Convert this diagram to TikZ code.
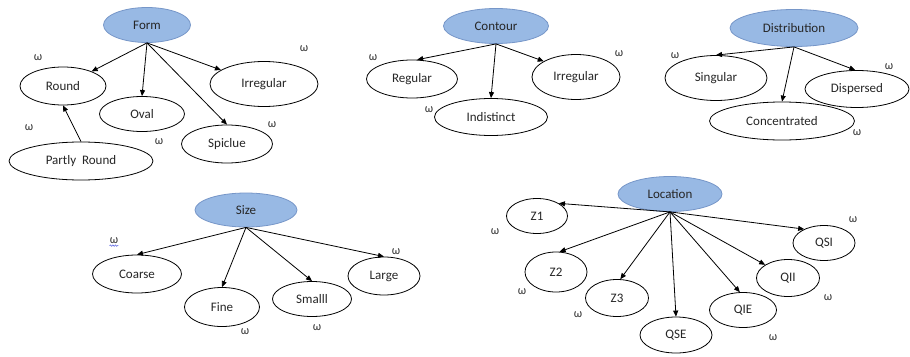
\documentclass[tikz,border=0pt]{standalone}
\usepackage{fontspec}
\setmainfont{Carlito}
\usetikzlibrary{arrows.meta,shapes.geometric,decorations.pathmorphing}
\definecolor{rootfill}{RGB}{152,185,228}
\definecolor{rootline}{RGB}{118,150,200}
\definecolor{wavyblue}{RGB}{70,80,220}
\begin{document}
\begin{tikzpicture}[x=1pt,y=-1pt,
  leaf/.style={draw=black, line width=0.8pt, ellipse, inner sep=0pt, font=\fontsize{13}{15}\selectfont, text=black!85},
  root/.style={leaf, fill=rootfill, draw=rootline},
  om/.style={inner sep=0pt, font=\fontsize{12}{14}\selectfont, text=black!80},
  arr/.style={line width=0.8pt, -{Triangle[length=6pt,width=5pt]}}]
\useasboundingbox (0,0) rectangle (910,356);
\fill[white] (0,0) rectangle (910,356);

% ---- Form ----
\node[root, minimum width=87pt, minimum height=35pt] (form) at (147,25) {Form};
\node[leaf, minimum width=86pt, minimum height=38pt] (round) at (63,86) {Round};
\node[leaf, minimum width=85pt, minimum height=35pt] (oval) at (142,114) {Oval};
\node[leaf, minimum width=108pt, minimum height=45pt] (irr1) at (264,84) {Irregular};
\node[leaf, minimum width=91pt, minimum height=38pt] (spic) at (227,144) {Spiclue};
\node[leaf, minimum width=144pt, minimum height=38pt] (partly) at (81,161) {Partly~~Round};
\node[om] (w1) at (38,58) {ω};
\node[om] (w2) at (304,49) {ω};
\node[om] (w3) at (29,128) {ω};
\node[om] (w4) at (159,142) {ω};
\node[om] (w5) at (272,125) {ω};
\draw[arr] (form.south) -- (round.27);
\draw[arr] (form.south) -- (oval.north);
\draw[arr] (form.south) -- (spic.north);
\draw[arr] (form.south) -- (irr1.162);
\draw[arr] (partly.north) -- (round.south);

% ---- Contour ----
\node[root, minimum width=105pt, minimum height=35pt] (contour) at (496,26) {Contour};
\node[leaf, minimum width=91pt, minimum height=38pt] (reg) at (412,79) {Regular};
\node[leaf, minimum width=113pt, minimum height=37pt] (indis) at (491,117) {Indistinct};
\node[leaf, minimum width=88pt, minimum height=45pt] (irr2) at (576,77) {Irregular};
\node[om] (w6) at (373,58) {ω};
\node[om] (w7) at (429,110) {ω};
\node[om] (w8) at (619,54) {ω};
\draw[arr] (contour.south) -- (reg.75);
\draw[arr] (contour.south) -- (indis.north);
\draw[arr] (contour.south) -- (irr2.154);

% ---- Distribution ----
\node[root, minimum width=128pt, minimum height=37pt] (dist) at (794,28) {Distribution};
\node[leaf, minimum width=102pt, minimum height=45pt] (sing) at (716,78) {Singular};
\node[leaf, minimum width=145pt, minimum height=38pt] (conc) at (782,121) {Concentrated};
\node[leaf, minimum width=104pt, minimum height=37pt] (disp) at (857,89) {Dispersed};
\node[om] (w9) at (675,56) {ω};
\node[om] (w10) at (889,67) {ω};
\node[om] (w11) at (857,133) {ω};
\draw[arr] (dist.south) -- (sing.north);
\draw[arr] (dist.south) -- (conc.north);
\draw[arr] (dist.south) -- (disp.95);

% ---- Size ----
\node[root, minimum width=102pt, minimum height=34pt] (size) at (246,210) {Size};
\node[leaf, minimum width=89pt, minimum height=38pt] (coarse) at (137,274) {Coarse};
\node[leaf, minimum width=75pt, minimum height=39pt] (fine) at (222,307) {Fine};
\node[leaf, minimum width=79pt, minimum height=35pt] (small) at (312,299) {Smalll};
\node[leaf, minimum width=72pt, minimum height=38pt] (large) at (384,276) {Large};
\node[om] (w12) at (114,241) {ω};
\draw[wavyblue, line width=0.5pt, decorate, decoration={snake, amplitude=0.7pt, segment length=2.5pt}] ([yshift=-1.5pt]w12.south west) -- ([yshift=-1.5pt]w12.south east);
\node[om] (w13) at (245,332) {ω};
\node[om] (w14) at (317,328) {ω};
\node[om] (w15) at (396,252) {ω};
\draw[arr] (size.south) -- (coarse.north);
\draw[arr] (size.south) -- (fine.north);
\draw[arr] (size.south) -- (small.north);
\draw[arr] (size.south) -- (large.north);

% ---- Location ----
\node[root, minimum width=104pt, minimum height=35pt] (loc) at (670,194) {Location};
\node[leaf, minimum width=61pt, minimum height=35pt] (z1) at (537,216) {Z1};
\node[leaf, minimum width=62pt, minimum height=40pt] (z2) at (556,272) {Z2};
\node[leaf, minimum width=63pt, minimum height=37pt] (z3) at (617,298) {Z3};
\node[leaf, minimum width=72pt, minimum height=36pt] (qse) at (676,335) {QSE};
\node[leaf, minimum width=67pt, minimum height=35pt] (qie) at (743,310) {QIE};
\node[leaf, minimum width=63pt, minimum height=37pt] (qii) at (788,278) {QII};
\node[leaf, minimum width=62pt, minimum height=35pt] (qsi) at (824,243) {QSI};
\node[om] (w16) at (495,232) {ω};
\node[om] (w17) at (522,292) {ω};
\node[om] (w18) at (578,315) {ω};
\node[om] (w19) at (773,338) {ω};
\node[om] (w20) at (828,298) {ω};
\node[om] (w21) at (853,220) {ω};
\draw[arr] (loc.south) -- (z1.30);
\draw[arr] (loc.south) -- (z2.80);
\draw[arr] (loc.south) -- (z3.80);
\draw[arr] (loc.south) -- (qse.north);
\draw[arr] (loc.south) -- (qie.100);
\draw[arr] (loc.south) -- (qii.150);
\draw[arr] (loc.south) -- (qsi.145);
\end{tikzpicture}
\end{document}
